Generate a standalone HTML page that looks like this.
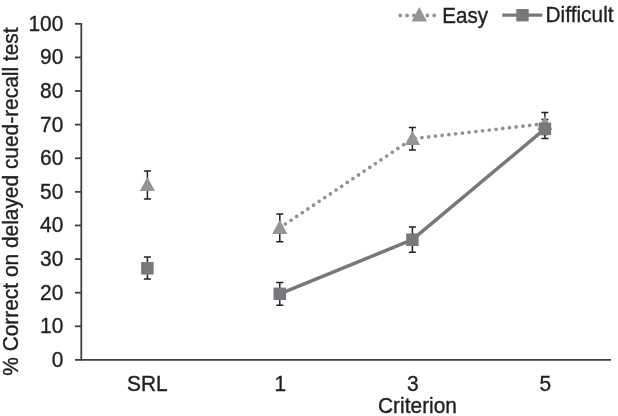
<!DOCTYPE html>
<html><head><meta charset="utf-8"><title>Chart</title>
<style>
html,body{margin:0;padding:0;background:#fff;}
svg{display:block}
text{font-family:"Liberation Sans",Arial,sans-serif;font-size:20.9px;fill:#231f20;stroke:#231f20;stroke-width:0.35px}
</style></head><body>
<svg width="618" height="416" viewBox="0 0 618 416">
<rect width="618" height="416" fill="#fff"/>
<path d="M81.3 23V359.9M80.5 359.9H611" stroke="#404042" stroke-width="1.8" fill="none"/>
<path d="M75 23.80H81.3" stroke="#404042" stroke-width="1.8"/>
<text transform="translate(63.3 30.7) scale(1 1.055)" text-anchor="end">100</text>
<path d="M75 57.41H81.3" stroke="#404042" stroke-width="1.8"/>
<text transform="translate(63.3 64.31) scale(1 1.055)" text-anchor="end">90</text>
<path d="M75 91.02H81.3" stroke="#404042" stroke-width="1.8"/>
<text transform="translate(63.3 97.92) scale(1 1.055)" text-anchor="end">80</text>
<path d="M75 124.63H81.3" stroke="#404042" stroke-width="1.8"/>
<text transform="translate(63.3 131.53) scale(1 1.055)" text-anchor="end">70</text>
<path d="M75 158.24H81.3" stroke="#404042" stroke-width="1.8"/>
<text transform="translate(63.3 165.14) scale(1 1.055)" text-anchor="end">60</text>
<path d="M75 191.85H81.3" stroke="#404042" stroke-width="1.8"/>
<text transform="translate(63.3 198.75) scale(1 1.055)" text-anchor="end">50</text>
<path d="M75 225.46H81.3" stroke="#404042" stroke-width="1.8"/>
<text transform="translate(63.3 232.36) scale(1 1.055)" text-anchor="end">40</text>
<path d="M75 259.07H81.3" stroke="#404042" stroke-width="1.8"/>
<text transform="translate(63.3 265.97) scale(1 1.055)" text-anchor="end">30</text>
<path d="M75 292.68H81.3" stroke="#404042" stroke-width="1.8"/>
<text transform="translate(63.3 299.58) scale(1 1.055)" text-anchor="end">20</text>
<path d="M75 326.29H81.3" stroke="#404042" stroke-width="1.8"/>
<text transform="translate(63.3 333.19) scale(1 1.055)" text-anchor="end">10</text>
<path d="M75 359.90H81.3" stroke="#404042" stroke-width="1.8"/>
<text transform="translate(63.3 366.8) scale(1 1.055)" text-anchor="end">0</text>
<text transform="translate(18.3 201.6) rotate(-90) scale(1 1.055)" text-anchor="middle">% Correct on delayed cued-recall test</text>
<text transform="translate(147.4 391.15) scale(1 1.055)" text-anchor="middle">SRL</text>
<text transform="translate(280.2 391.15) scale(1 1.055)" text-anchor="middle">1</text>
<text transform="translate(412.79999999999995 391.15) scale(1 1.055)" text-anchor="middle">3</text>
<text transform="translate(545.3 391.15) scale(1 1.055)" text-anchor="middle">5</text>
<text transform="translate(417.5 412.8) scale(1 1.055)" text-anchor="middle">Criterion</text>
<polyline points="279.8,227.8 412.4,138.7 544.9,123.7" fill="none" stroke="#8f9093" stroke-width="3.7" stroke-linecap="round" stroke-dasharray="0 6.775"/>
<polyline points="279.8,293.8 412.4,239.7 544.9,128.8" fill="none" stroke="#77787b" stroke-width="3.5" stroke-linejoin="round"/>
<path d="M147.4 170.9V198.9M143.9 170.9H150.9M143.9 198.9H150.9" stroke="#231f20" stroke-width="1.5" fill="none"/>
<path d="M279.8 213.9V241.7M276.3 213.9H283.3M276.3 241.7H283.3" stroke="#231f20" stroke-width="1.5" fill="none"/>
<path d="M412.4 127.4V150.0M408.9 127.4H415.9M408.9 150.0H415.9" stroke="#231f20" stroke-width="1.5" fill="none"/>
<path d="M544.9 112.6V134.6M541.4 112.6H548.4M541.4 134.6H548.4" stroke="#231f20" stroke-width="1.5" fill="none"/>
<path d="M147.4 256.9V279.0M143.9 256.9H150.9M143.9 279.0H150.9" stroke="#231f20" stroke-width="1.5" fill="none"/>
<path d="M279.8 282.6V305.3M276.3 282.6H283.3M276.3 305.3H283.3" stroke="#231f20" stroke-width="1.5" fill="none"/>
<path d="M412.4 226.9V252.3M408.9 226.9H415.9M408.9 252.3H415.9" stroke="#231f20" stroke-width="1.5" fill="none"/>
<path d="M544.9 119.4V138.4M541.4 119.4H548.4M541.4 138.4H548.4" stroke="#231f20" stroke-width="1.5" fill="none"/>
<path d="M147.4 176.90L155.0 191.10H139.8Z" fill="#949598"/>
<path d="M279.8 219.80L287.40000000000003 234.00H272.2Z" fill="#949598"/>
<path d="M412.4 130.70L420.0 144.90H404.79999999999995Z" fill="#949598"/>
<path d="M544.9 115.70L552.5 129.90H537.3Z" fill="#949598"/>
<rect x="141.15" y="262.05" width="12.5" height="12.5" fill="#77787b"/>
<rect x="273.55" y="287.55" width="12.5" height="12.5" fill="#77787b"/>
<rect x="406.15" y="233.45" width="12.5" height="12.5" fill="#77787b"/>
<rect x="538.65" y="122.55" width="12.5" height="12.5" fill="#77787b"/>
<path d="M400.3 15.4H435" stroke="#8f9093" stroke-width="3.7" stroke-linecap="round" stroke-dasharray="0 6.775" fill="none"/>
<path d="M419.3 6.9L427 21.6H411.6Z" fill="#949598"/>
<text transform="translate(442.2 22.6) scale(1 1.055)" style="font-size:20.6px">Easy</text>
<path d="M502.3 15.2H542.3" stroke="#77787b" stroke-width="3.2"/>
<rect x="516.3" y="9" width="12.4" height="12.4" fill="#77787b"/>
<text transform="translate(545.5 22.4) scale(1 1.055)">Difficult</text>
</svg></body></html>
